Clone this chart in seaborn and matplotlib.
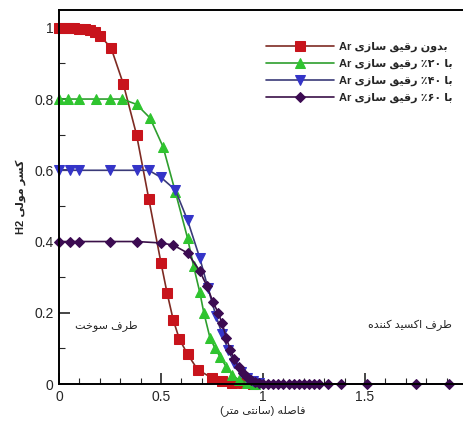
import numpy as np
import pandas as pd
import matplotlib
matplotlib.use("Agg")
import matplotlib.pyplot as plt
import seaborn as sns
from matplotlib.ticker import MultipleLocator

# data (distance in cm, H2 mole fraction)
x_none = [0, 0.025, 0.05, 0.075, 0.1, 0.125, 0.15, 0.175, 0.2, 0.255, 0.315, 0.38, 0.44, 0.50,
          0.53, 0.56, 0.59, 0.63, 0.68, 0.75, 0.80, 0.85, 0.90, 0.95]
y_none = [1.0, 1.0, 1.0, 0.999, 0.998, 0.996, 0.993, 0.988, 0.978, 0.944, 0.843, 0.70, 0.52, 0.34,
          0.255, 0.18, 0.126, 0.084, 0.04, 0.017, 0.008, 0.004, 0.002, 0.001]

x_20 = [0, 0.045, 0.1, 0.18, 0.25, 0.31, 0.38, 0.446, 0.51, 0.57, 0.63, 0.66, 0.69, 0.71,
        0.74, 0.765, 0.79, 0.82, 0.85, 0.88, 0.92, 0.96]
y_20 = [0.8, 0.8, 0.8, 0.8, 0.8, 0.8, 0.785, 0.747, 0.666, 0.54, 0.41, 0.33, 0.258, 0.20,
        0.13, 0.10, 0.076, 0.048, 0.025, 0.012, 0.004, 0.001]

x_40 = [0, 0.054, 0.1, 0.25, 0.38, 0.44, 0.5, 0.57, 0.63, 0.69, 0.73, 0.77, 0.8, 0.83,
        0.86, 0.89, 0.92, 0.95, 0.98]
y_40 = [0.6, 0.6, 0.6, 0.6, 0.6, 0.6, 0.58, 0.545, 0.46, 0.354, 0.27, 0.19, 0.14, 0.095,
        0.06, 0.035, 0.018, 0.008, 0.002]

x_60 = [0, 0.054, 0.1, 0.25, 0.38, 0.5, 0.56, 0.63, 0.69, 0.725, 0.755, 0.78, 0.8, 0.82,
        0.84, 0.86, 0.88, 0.9, 0.92, 0.94, 0.96, 0.98, 1.0, 1.025, 1.05, 1.075, 1.1, 1.125,
        1.15, 1.175, 1.2, 1.225, 1.25, 1.275, 1.32, 1.38, 1.51, 1.75, 1.91]
y_60 = [0.4, 0.4, 0.4, 0.4, 0.4, 0.396, 0.39, 0.368, 0.317, 0.275, 0.23, 0.2, 0.17, 0.13,
        0.095, 0.07, 0.048, 0.032, 0.02, 0.012, 0.006, 0.003, 0, 0, 0, 0, 0, 0,
        0, 0, 0, 0, 0, 0, 0, 0, 0, 0, 0]

labels = ["بدون رقیق سازی", "با ۲۰٪ رقیق سازی", "با ۴۰٪ رقیق سازی", "با ۶۰٪ رقیق سازی"]
y_label = "کسر مولی"
x_label = "فاصله (سانتی متر)"
fuel_side = "طرف سوخت"
oxid_side = "طرف اکسید کننده"

# presentation forms: isolated, final, initial, medial (None = does not join forward)
FORMS = {
    "ا": ("\uFE8D", "\uFE8E", None, None),
    "ب": ("\uFE8F", "\uFE90", "\uFE91", "\uFE92"),
    "ت": ("\uFE95", "\uFE96", "\uFE97", "\uFE98"),
    "خ": ("\uFEA5", "\uFEA6", "\uFEA7", "\uFEA8"),
    "د": ("\uFEA9", "\uFEAA", None, None),
    "ر": ("\uFEAD", "\uFEAE", None, None),
    "ز": ("\uFEAF", "\uFEB0", None, None),
    "س": ("\uFEB1", "\uFEB2", "\uFEB3", "\uFEB4"),
    "ص": ("\uFEB9", "\uFEBA", "\uFEBB", "\uFEBC"),
    "ط": ("\uFEC1", "\uFEC2", "\uFEC3", "\uFEC4"),
    "ف": ("\uFED1", "\uFED2", "\uFED3", "\uFED4"),
    "ق": ("\uFED5", "\uFED6", "\uFED7", "\uFED8"),
    "ل": ("\uFEDD", "\uFEDE", "\uFEDF", "\uFEE0"),
    "م": ("\uFEE1", "\uFEE2", "\uFEE3", "\uFEE4"),
    "ن": ("\uFEE5", "\uFEE6", "\uFEE7", "\uFEE8"),
    "ه": ("\uFEE9", "\uFEEA", "\uFEEB", "\uFEEC"),
    "و": ("\uFEED", "\uFEEE", None, None),
    "ی": ("\uFBFC", "\uFBFD", "\uFBFE", "\uFBFF"),
    "ک": ("\uFB8E", "\uFB8F", "\uFB90", "\uFB91"),
}
# digit runs stay left-to-right; the percent sign goes to their left as in the picture
DIGITS = set("۰۱۲۳۴۵۶۷۸۹0123456789")


def shape(text):
    out = []
    for i, c in enumerate(text):
        if c not in FORMS:
            out.append(c)
            continue
        iso, fin, ini, med = FORMS[c]
        prev = text[i - 1] if i > 0 else ""
        nxt = text[i + 1] if i < len(text) - 1 else ""
        j_prev = prev in FORMS and FORMS[prev][2] is not None
        j_next = nxt in FORMS and ini is not None
        if j_prev and j_next:
            out.append(med)
        elif j_prev:
            out.append(fin)
        elif j_next:
            out.append(ini)
        else:
            out.append(iso)
    return "".join(out)


def rtl(text):
    # shape, then lay out right-to-left keeping number runs in order
    s = shape(text)
    runs, cur, cur_num = [], "", None
    for c in s:
        is_num = c in DIGITS
        if cur and is_num != cur_num:
            runs.append((cur, cur_num))
            cur = ""
        cur += c
        cur_num = is_num
    if cur:
        runs.append((cur, cur_num))
    mirror = {"(": ")", ")": "("}
    parts = []
    for r, is_num in reversed(runs):
        if is_num:
            parts.append(r)
        else:
            parts.append("".join(mirror.get(c, c) for c in reversed(r)))
    return "".join(parts)


sns.set_style("white")
plt.rcParams["font.family"] = ["Liberation Sans", "DejaVu Sans"]

fig = plt.figure(figsize=(4.63, 4.21), dpi=100)
ax = fig.add_axes([59 / 463, 37 / 421, 408 / 463, 374 / 421])

series = [
    (x_none, y_none, "s", "#7E2A22", "#C8141C", 6.5),
    (x_20, y_20, "^", "#2E9E2E", "#2FC42F", 7),
    (x_40, y_40, "v", "#3A3A78", "#3434C8", 7),
    (x_60, y_60, "D", "#3A1048", "#3C0B52", 5.5),
]
for (xs, ys, mk, lc, mc, ms), lab in zip(series, labels):
    df = pd.DataFrame({"x": xs, "y": ys})
    sns.lineplot(data=df, x="x", y="y", ax=ax, estimator=None, sort=False,
                 color=lc, lw=1.2, marker=mk, markersize=ms,
                 markerfacecolor=mc, markeredgecolor=mc, clip_on=False,
                 label="Ar " + rtl(lab))

ax.set_xlim(0, 2)
ax.set_ylim(0, 1.05)
ax.xaxis.set_minor_locator(MultipleLocator(0.1))
ax.yaxis.set_minor_locator(MultipleLocator(0.1))
ax.set_xticks([0, 0.5, 1, 1.5])
ax.set_xticklabels(["0", "0.5", "1", "1.5"])
ax.set_yticks([0, 0.2, 0.4, 0.6, 0.8, 1.0])
ax.set_yticklabels(["0", "0.2", "0.4", "0.6", "0.8", "1"])
ax.tick_params(which="major", direction="in", length=8, width=1.2, labelsize=10,
               bottom=True, left=True, top=False, right=False, pad=4)
ax.tick_params(which="minor", direction="in", length=4, width=0.8,
               bottom=True, left=True, top=False, right=False)
for sp in ax.spines.values():
    sp.set_color("black")
    sp.set_linewidth(1.4)

ax.set_xlabel(rtl(x_label), fontsize=8, labelpad=1)
ax.set_ylabel("H2 " + rtl(y_label), fontsize=8, fontweight="bold", labelpad=6)

ax.text(0.23, 0.165, rtl(fuel_side), fontsize=8, ha="center", va="center")
ax.text(1.72, 0.165, rtl(oxid_side), fontsize=8, ha="center", va="center")

leg = ax.legend(loc="upper left", bbox_to_anchor=(260 / 463, 1 - 36 / 421),
                bbox_transform=fig.transFigure, frameon=False, handlelength=6.2,
                handletextpad=0.4, labelspacing=0.6, borderpad=0,
                prop={"size": 8, "weight": "bold"})

fig.savefig("out.png", dpi=100)
